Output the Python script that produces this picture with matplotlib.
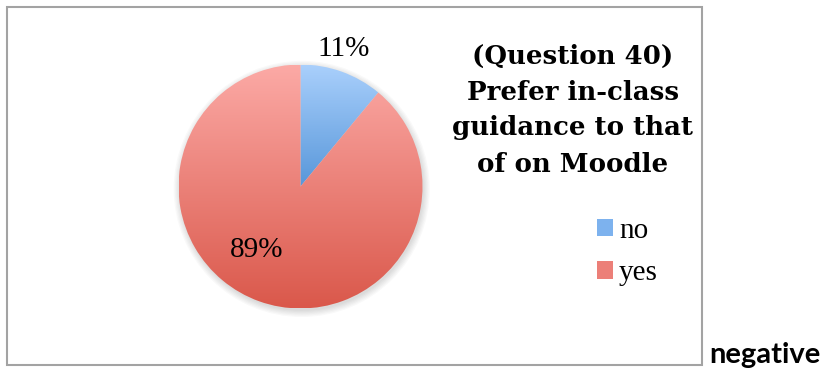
import numpy as np
import matplotlib
matplotlib.use('Agg')
import matplotlib.pyplot as plt
from matplotlib.patches import Rectangle, Circle, Patch
from matplotlib.colors import LinearSegmentedColormap

labels = ['no', 'yes']
shares = [11, 89]
top_colors = ['#aad0fc', '#fcaaa6']
bottom_colors = ['#5897da', '#da584b']
legend_colors = ['#7db2ee', '#ec7f78']
title = '(Question 40)\nPrefer in-class\nguidance to that\nof on Moodle'

W, H = 824, 378
fig = plt.figure(figsize=(W / 100, H / 100), dpi=100)

# pie axes: centre (300.5, 186.5) px from top-left, radius 122 px
cx, cy, r = 300.5, 186.5, 122
ax = fig.add_axes([(cx - r) / W, (H - cy - r) / H, 2 * r / W, 2 * r / H])
ax.set_xlim(-1, 1)
ax.set_ylim(-1, 1)
ax.set_aspect('equal')
ax.axis('off')

# soft shadow under the pie
for k in range(6):
    ax.add_patch(Circle((0.01, -0.02), 1.0 + k * 0.01, color='k', alpha=0.022,
                        lw=0, zorder=0, clip_on=False))

wedges, _ = ax.pie(shares, startangle=90, counterclock=False, radius=1,
                   wedgeprops=dict(lw=0), labels=None)

# vertical gradient fill inside each wedge
grad = np.linspace(0, 1, 256).reshape(-1, 1)
for w, c0, c1 in zip(wedges, top_colors, bottom_colors):
    ext = w.get_path().get_extents()
    cmap = LinearSegmentedColormap.from_list('g', [c0, c1])
    im = ax.imshow(grad, cmap=cmap, aspect='auto', origin='upper',
                   extent=(ext.x0, ext.x1, ext.y0, ext.y1), zorder=1)
    im.set_clip_path(w)
    w.set_facecolor('none')
ax.set_xlim(-1, 1)
ax.set_ylim(-1, 1)

# percentage labels
label_pos = [(0.357, 1.127), (-0.357, -0.52)]
for s, (x, y) in zip(shares, label_pos):
    ax.text(x, y, f'{s}%', ha='center', va='center', fontsize=21,
            family='Liberation Serif', color='black', zorder=3, clip_on=False)

# chart border
fig.add_artist(Rectangle((7 / W, (H - 365) / H), 695 / W, 358 / H,
                         transform=fig.transFigure, fill=False,
                         edgecolor='#a3a3a3', lw=1.5))

fig.text(573 / W, 1 - 110 / H, title, ha='center', va='center', fontsize=18.7,
         fontweight='bold', family='DejaVu Serif', linespacing=1.55)

handles = [Patch(facecolor=c, edgecolor='none') for c in legend_colors]
fig.legend(handles, labels, loc='upper left',
           bbox_to_anchor=(597 / W, 1 - 218 / H), frameon=False,
           prop=dict(family='Liberation Serif', size=21),
           handlelength=0.55, handleheight=0.55, handletextpad=0.2,
           labelspacing=0.55, borderpad=0, borderaxespad=0)

fig.text(709 / W, 1 - 363 / H, 'negative', ha='left', va='baseline',
         fontsize=21, fontweight='bold', family='Lato')

fig.savefig('out.png', dpi=100)
